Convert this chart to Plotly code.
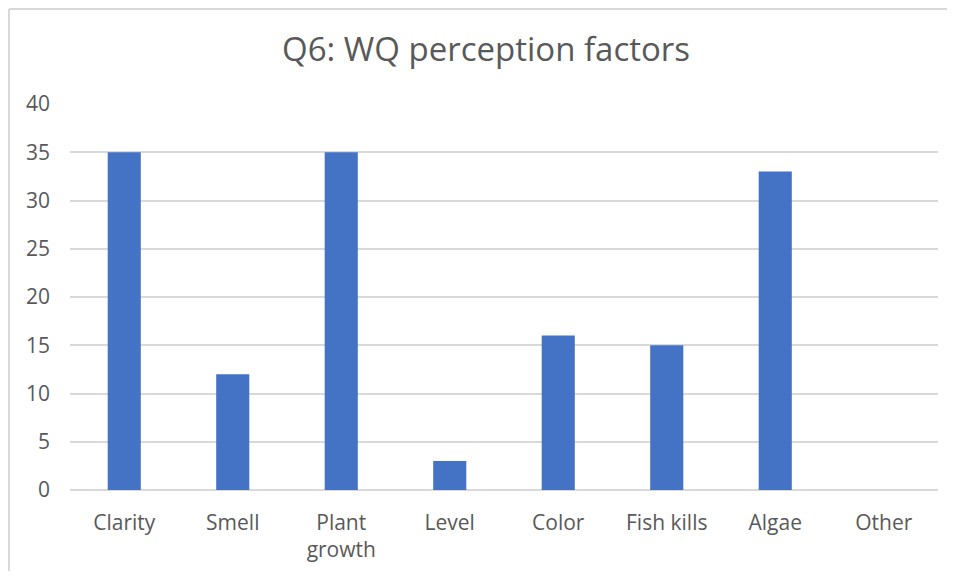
import plotly.graph_objects as go

categories = ["Clarity", "Smell", "Plant<br>growth", "Level", "Color", "Fish kills", "Algae", "Other"]
counts = [35, 12, 35, 3, 16, 15, 33, 0]
y_ticks = [0, 5, 10, 15, 20, 25, 30, 35, 40]

# page body has an 8px margin, so the figure is offset by (8, 8);
# keep the figure inside the window so no scrollbars appear
OFF = 8
W, H = 955 - 2 * OFF, 579 - 2 * OFF
L, T = 70 - OFF, 104 - OFF
R = W - (938 - OFF)
B = H - (490 - OFF)
pw, ph = W - L - R, H - T - B

def px_x(x):
    return (x - OFF - L) / pw

def px_y(y):
    return (H - B - (y - OFF)) / ph

fig = go.Figure(go.Bar(
    x=categories, y=counts,
    marker=dict(color="#4472C4", line=dict(width=0)),
    width=0.305,
))

border = dict(color="#d9d9d9", width=2)

fig.update_layout(
    width=W, height=H,
    margin=dict(l=L, r=R, t=T, b=B),
    paper_bgcolor="white", plot_bgcolor="white",
    showlegend=False,
    title=dict(text="Q6: WQ perception factors", x=(486 - OFF) / W, xanchor="center",
               y=1 - (49 - OFF) / H, yanchor="middle",
               font=dict(family="Open Sans", size=33, color="#595959")),
    font=dict(family="Open Sans", color="#595959"),
    xaxis=dict(showgrid=False, showline=False, ticks="",
               ticklabelstandoff=18,
               tickfont=dict(size=21, color="#595959"), zeroline=False),
    yaxis=dict(range=[0, 40], tickvals=y_ticks, showgrid=True,
               gridcolor="#d9d9d9", gridwidth=1.5, zeroline=True,
               zerolinecolor="#d9d9d9", zerolinewidth=1.5,
               showline=False, ticks="", ticklabelstandoff=19,
               tickfont=dict(size=21, color="#595959")),
    shapes=[
        dict(type="line", xref="paper", yref="paper",
             x0=px_x(9), x1=px_x(1000), y0=px_y(9), y1=px_y(9), line=border),
        dict(type="line", xref="paper", yref="paper",
             x0=px_x(9), x1=px_x(9), y0=px_y(9), y1=px_y(620), line=border),
    ],
)

fig.write_html("out.html")
